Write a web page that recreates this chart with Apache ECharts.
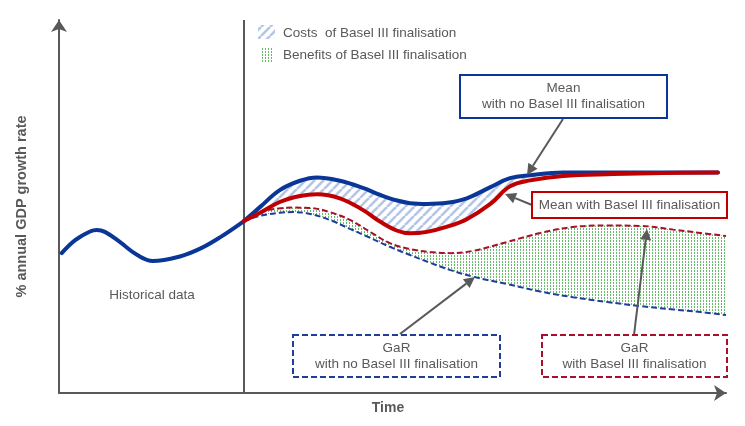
<!DOCTYPE html>
<html><head><meta charset="utf-8">
<script src="https://cdn.jsdelivr.net/npm/echarts@6/dist/echarts.min.js"></script>
<style>html,body{margin:0;padding:0;background:#fff}#c{width:745px;height:426px}</style>
</head><body><div id="c"></div>
<script>
// ---- data (time index 0..100, growth index 0..100) ----
const histX = [0.4, 2.4, 4.6, 5.6, 6.8, 9.0, 11.6, 13.9, 17.9, 20.9, 23.9, 27.4];
const histY = [37.5, 41.0, 43.3, 43.7, 43.2, 40.5, 37.0, 35.4, 36.6, 38.7, 41.8, 46.1];

const meanX = [27.4, 29.8, 32.7, 35.7, 38.2, 41.6, 45.0, 47.6, 50.1, 52.0, 54.5, 57.5, 60.4, 63.9, 66.8, 69.8, 74.7, 82.1, 89.5, 97.6];
const meanNoBasel = [46.1, 49.9, 54.4, 56.9, 57.8, 56.9, 55.0, 53.1, 51.6, 50.9, 50.7, 51.0, 52.2, 55.2, 57.6, 58.4, 59.1, 59.1, 59.1, 59.1];
const meanWithBasel = [46.1, 48.3, 51.2, 52.8, 53.3, 52.2, 49.1, 45.9, 43.5, 42.8, 43.2, 44.6, 46.6, 50.7, 55.4, 57.0, 58.2, 58.7, 59.0, 59.1];

const garX = [27.4, 29.8, 32.7, 34.7, 37.2, 40.1, 43.1, 46.1, 49.0, 52.0, 55.0, 57.9, 61.3, 66.4, 71.3, 76.1, 81.2, 86.1, 91.0, 95.0, 98.8];
const garNoBasel = [46.1, 47.5, 48.3, 48.5, 48.0, 46.4, 44.0, 41.6, 39.2, 37.0, 34.9, 33.0, 31.2, 29.2, 27.2, 25.7, 24.4, 23.3, 22.4, 21.7, 20.9];
const garWithBasel = [46.1, 48.5, 49.5, 49.7, 49.6, 48.5, 46.4, 43.2, 40.2, 38.6, 37.8, 37.5, 38.1, 40.5, 42.9, 44.5, 44.9, 44.8, 43.8, 42.9, 42.1];

const forecastStart = 27.4;

const yTitle = '% annual GDP growth rate';
const xTitle = 'Time';
const legendCosts = 'Costs  of Basel III finalisation';
const legendBenefits = 'Benefits of Basel III finalisation';

// ---- styles ----
const GRAY = '#595959';
const BLUE = '#0a3797';
const RED = '#c00000';
const DBLUE = '#1f3e9c';
const DRED = '#a8102a';
const FONT = '13.5px "Liberation Sans", Arial, sans-serif';

function hatchCanvas() {
  const s = 9, c = document.createElement('canvas');
  c.width = s; c.height = s;
  const g = c.getContext('2d');
  g.strokeStyle = '#b4c6e7'; g.lineWidth = 2.6;
  for (let k = -1; k <= 1; k++) { g.beginPath(); g.moveTo(k * s, s); g.lineTo(k * s + s, 0); g.stroke(); }
  return c;
}
function dotCanvas() {
  const c = document.createElement('canvas');
  c.width = 3; c.height = 3;
  const g = c.getContext('2d');
  g.fillStyle = '#66bb6a';
  g.fillRect(1, 0, 1, 2);
  return c;
}
const hatch = { image: hatchCanvas(), repeat: 'repeat' };
const dots = { image: dotCanvas(), repeat: 'repeat' };

const zip = (xs, ys) => xs.map((x, i) => [x, ys[i]]);
const SM = 0.4;

function arrow(x1, y1, x2, y2) {
  const dx = x2 - x1, dy = y2 - y1, L = Math.hypot(dx, dy), ux = dx / L, uy = dy / L;
  const hl = 11, hw = 5.5, bx = x2 - ux * hl, by = y2 - uy * hl;
  return [
    { type: 'line', z: 50, shape: { x1, y1, x2: bx, y2: by }, style: { stroke: GRAY, lineWidth: 2 } },
    { type: 'polygon', z: 50, shape: { points: [[x2, y2], [bx - uy * hw, by + ux * hw], [bx + uy * hw, by - ux * hw]] }, style: { fill: GRAY } }
  ];
}
function box(x, y, w, h, stroke, dash, lines) {
  const els = [{ type: 'rect', z: 60, shape: { x, y, width: w, height: h }, style: { fill: '#fff', stroke, lineWidth: 2, lineDash: dash } }];
  const n = lines.length, lh = 16;
  lines.forEach((t, i) => {
    els.push({ type: 'text', z: 61, x: x + w / 2, y: y + h / 2 + (i - (n - 1) / 2) * lh,
      style: { text: t, font: FONT, fill: GRAY, align: 'center', verticalAlign: 'middle' } });
  });
  return els;
}
function txt(x, y, t, align) {
  return { type: 'text', z: 61, x, y, style: { text: t, font: FONT, fill: GRAY, align: align || 'left', verticalAlign: 'middle' } };
}

const graphics = [].concat(
  [{ type: 'rect', z: 60, shape: { x: 258, y: 25, width: 17, height: 14 }, style: { fill: hatch } }],
  [txt(283, 33, legendCosts)],
  [{ type: 'rect', z: 60, shape: { x: 260, y: 47, width: 14, height: 16 }, style: { fill: dots } }],
  [txt(283, 55, legendBenefits)],
  [txt(152, 295, 'Historical data', 'center')],
  arrow(563, 119, 527, 175),
  arrow(532, 205, 505, 194),
  arrow(400, 334, 475, 277),
  arrow(634, 335, 647, 229),
  box(460, 75, 207, 43, BLUE, null, ['Mean', 'with no Basel III finalisation']),
  box(532, 192, 195, 26, RED, null, ['Mean with Basel III finalisation']),
  box(293, 335, 207, 42, DBLUE, [6, 3], ['GaR', 'with no Basel III finalisation']),
  box(542, 335, 185, 42, DRED, [6, 3], ['GaR', 'with Basel III finalisation'])
);

const lineBase = { type: 'line', showSymbol: false, symbol: 'none', smooth: SM, silent: true };
const hidden = { width: 0, opacity: 0 };

const chart = echarts.init(document.getElementById('c'));
chart.setOption({
  animation: false,
  backgroundColor: '#fff',
  grid: { left: 59, right: 19, top: 20, bottom: 33 },
  xAxis: {
    type: 'value', min: 0, max: 98.8, z: 4,
    axisLine: { show: true, onZero: false, lineStyle: { color: GRAY, width: 2 }, symbol: ['none', 'arrow'], symbolSize: [12, 12] },
    axisTick: { show: false }, axisLabel: { show: false }, splitLine: { show: false },
    name: xTitle, nameLocation: 'middle', nameGap: 8,
    nameTextStyle: { color: GRAY, fontWeight: 'bold', fontSize: 14, fontFamily: '"Liberation Sans", Arial, sans-serif', padding: [0, 9, 0, 0] }
  },
  yAxis: {
    type: 'value', min: 0, max: 100, z: 4,
    axisLine: { show: true, onZero: false, lineStyle: { color: GRAY, width: 2 }, symbol: ['none', 'arrow'], symbolSize: [12, 12] },
    axisTick: { show: false }, axisLabel: { show: false }, splitLine: { show: false },
    name: yTitle, nameLocation: 'middle', nameGap: 30, nameRotate: 90,
    nameTextStyle: { color: GRAY, fontWeight: 'bold', fontSize: 14.5, fontFamily: '"Liberation Sans", Arial, sans-serif' }
  },
  series: [
    // cost band: hatch below "no Basel" mean, masked below "with Basel" mean
    Object.assign({}, lineBase, { name: 'Costs', z: 1, data: zip(meanX, meanNoBasel), lineStyle: hidden, areaStyle: { color: hatch, opacity: 1, origin: 'start' } }),
    Object.assign({}, lineBase, { name: 'costMask', z: 1, data: zip(meanX, meanWithBasel), lineStyle: hidden, areaStyle: { color: '#ffffff', opacity: 1, origin: 'start' } }),
    // benefit band: dots below "with Basel" GaR, masked below "no Basel" GaR
    Object.assign({}, lineBase, { name: 'Benefits', z: 1, data: zip(garX, garWithBasel), lineStyle: hidden, areaStyle: { color: dots, opacity: 1, origin: 'start' } }),
    Object.assign({}, lineBase, { name: 'benMask', z: 1, data: zip(garX, garNoBasel), lineStyle: hidden, areaStyle: { color: '#ffffff', opacity: 1, origin: 'start' } }),
    Object.assign({}, lineBase, {
      name: 'Historical', data: zip(histX, histY), z: 5,
      lineStyle: { color: BLUE, width: 4, cap: 'round' },
      markLine: { silent: true, symbol: ['none', 'none'], label: { show: false },
        lineStyle: { color: GRAY, width: 2, type: 'solid' }, data: [{ xAxis: forecastStart }] }
    }),
    Object.assign({}, lineBase, { name: 'GaR no Basel', z: 3, data: zip(garX, garNoBasel), lineStyle: { color: DBLUE, width: 2, type: [6, 3] } }),
    Object.assign({}, lineBase, { name: 'GaR with Basel', z: 3, data: zip(garX, garWithBasel), lineStyle: { color: DRED, width: 2, type: [6, 3] } }),
    Object.assign({}, lineBase, { name: 'Mean no Basel', z: 6, data: zip(meanX, meanNoBasel), lineStyle: { color: BLUE, width: 4, cap: 'round' } }),
    Object.assign({}, lineBase, { name: 'Mean with Basel', z: 7, data: zip(meanX, meanWithBasel), lineStyle: { color: RED, width: 4, cap: 'round' } })
  ],
  graphic: graphics
});
</script></body></html>
